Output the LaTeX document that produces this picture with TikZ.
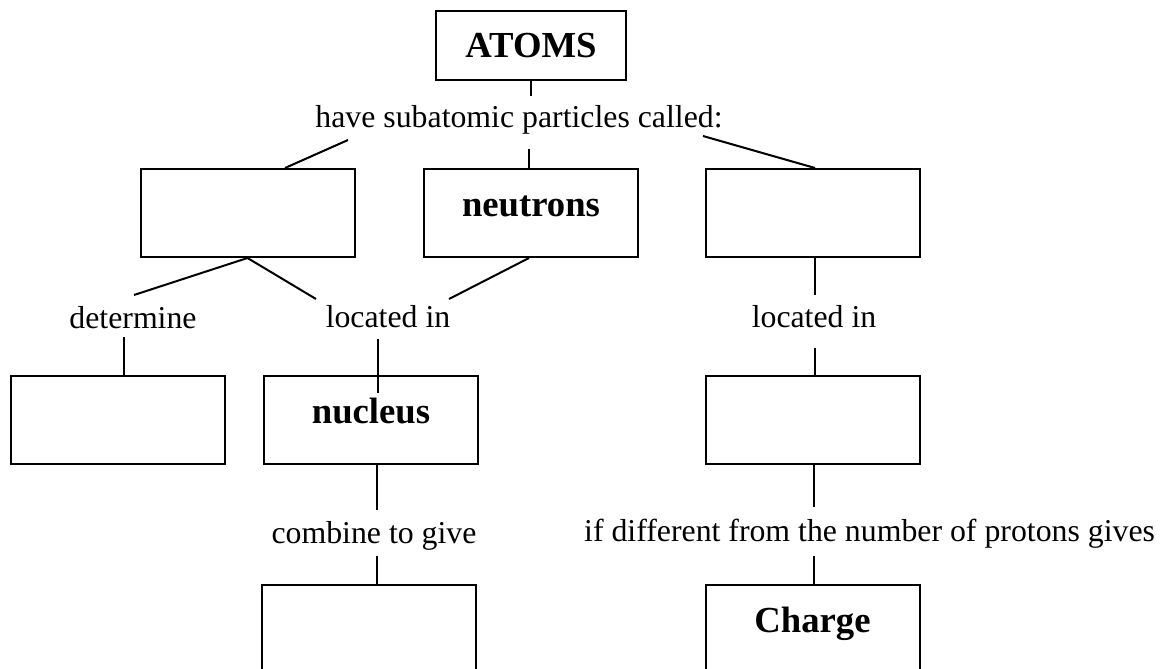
\documentclass[tikz,border=0pt]{standalone}
\usepackage{fontspec}
\setmainfont{Liberation Serif}
\begin{document}
\begin{tikzpicture}[x=1pt,y=-1pt]
\tikzset{
  box/.style={draw, line width=2pt, inner xsep=0pt, inner ysep=0pt,
    minimum width=214pt, minimum height=88pt, text height=47pt, text depth=41pt,
    font=\fontsize{36.7}{44}\selectfont\bfseries, anchor=north},
  lbl/.style={inner sep=0pt, anchor=base, font=\fontsize{31.8}{38}\selectfont},
  conn/.style={line width=2pt}
}
\useasboundingbox (0,0) rectangle (1167,669);
\clip (0,0) rectangle (1167,669);
\fill[white] (0,0) rectangle (1167,669);

% boxes
\node[box, minimum width=190pt, minimum height=69pt, text depth=22pt] (atoms) at (531,10) {ATOMS};
\node[box] (p) at (247.5,168) {};
\node[box] (n) at (531,168) {neutrons};
\node[box] (e) at (813,168) {};
\node[box] (d) at (117.5,375) {};
\node[box] (nu) at (371,375) {nucleus};
\node[box] (f) at (813,375) {};
\node[box] (g) at (369,584) {};
\node[box] (ch) at (812.5,584) {Charge};

% labels
\node[lbl] (l0) at (519,127) {have subatomic particles called:};
\node[lbl] (l1) at (133,328) {determine};
\node[lbl] (l2) at (388,327) {located in};
\node[lbl] (l3) at (814,327) {located in};
\node[lbl] (l4) at (374,543) {combine to give};
\node[lbl, anchor=base west] (l5) at (584,541) {if different from the number of protons gives};

% connector end points
\coordinate (a1) at (531,96);
\coordinate (b1) at (529,149);
\coordinate (b2) at (348,140);
\coordinate (pt) at (285,168);
\coordinate (b3) at (703,136);
\coordinate (d1) at (134,295);
\coordinate (d2) at (316,299);
\coordinate (d3) at (449,299);
\coordinate (d4) at (815,295);
\coordinate (e1) at (124,337);
\coordinate (e2) at (378,339);
\coordinate (e2b) at (378,393);
\coordinate (e3) at (815,348);
\coordinate (f1) at (377,510);
\coordinate (f2) at (377,556);
\coordinate (f3) at (814,507);
\coordinate (f4) at (814,556);

% connectors
\draw[conn] (atoms.south) -- (a1);
\draw[conn] (b1) -- (b1 |- n.north);
\draw[conn] (b2) -- (pt);
\draw[conn] (b3) -- (e.north -| d4);
\draw[conn] (p.south) -- (d1);
\draw[conn] (p.south) -- (d2);
\draw[conn] (n.south -| b1) -- (d3);
\draw[conn] (e.south -| d4) -- (d4);
\draw[conn] (e1) -- (e1 |- d.north);
\draw[conn] (e2) -- (e2b);
\draw[conn] (e3) -- (e3 |- f.north);
\draw[conn] (nu.south -| f1) -- (f1);
\draw[conn] (f2) -- (f2 |- g.north);
\draw[conn] (f.south -| f3) -- (f3);
\draw[conn] (f4) -- (f4 |- ch.north);
\end{tikzpicture}
\end{document}
